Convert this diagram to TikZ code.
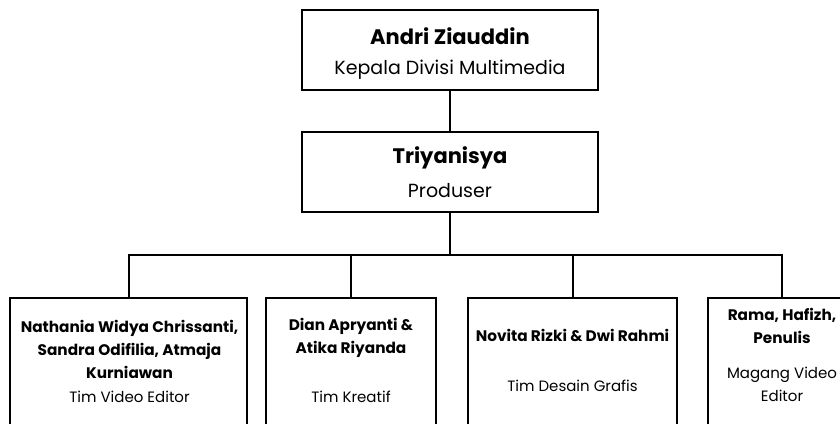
\documentclass[tikz,border=0pt]{standalone}
\usepackage{fontspec}
\setmainfont{Poppins}
\begin{document}
\begin{tikzpicture}[x=1pt,y=-1pt,
  box/.style={draw,line width=2pt,rectangle,inner sep=0pt},
  bigb/.style={font=\fontsize{21}{24}\selectfont\bfseries,align=center},
  big/.style={font=\fontsize{19}{24}\selectfont,align=center},
  smallb/.style={font=\fontsize{15.3}{23}\selectfont\bfseries,align=center},
  small/.style={font=\fontsize{15}{23}\selectfont,align=center},
  conn/.style={line width=2pt}]
\useasboundingbox (0,0) rectangle (840,423);
\clip (0,0) rectangle (840,423);
% top boxes
\node[box,minimum width=296pt,minimum height=80pt] (head) at (450,50) {};
\node[box,minimum width=296pt,minimum height=80pt] (prod) at (450,172) {};
\node[bigb] (t1) at (450,36) {Andri Ziauddin};
\node[big] (t2) at (450,70) {Kepala Divisi Multimedia};
\node[bigb] (t3) at (450,158) {Triyanisya};
\node[big] (t4) at (450,191) {Produser};
% bottom boxes
\node[box,minimum width=237pt,minimum height=150pt,anchor=north] (b1) at (128.5,297) {};
\node[box,minimum width=170pt,minimum height=150pt,anchor=north] (b2) at (351,297) {};
\node[box,minimum width=209pt,minimum height=150pt,anchor=north] (b3) at (572.5,297) {};
\node[box,minimum width=148pt,minimum height=150pt,anchor=north] (b4) at (782,297) {};
\node[smallb] (s1) at (129.5,349) {Nathania Widya Chrissanti,\\Sandra Odifilia, Atmaja\\Kurniawan};
\node[small] (s1b) at (129.5,397) {Tim Video Editor};
\node[smallb] (s2) at (351,337.5) {Dian Apryanti \&\\Atika Riyanda};
\node[small] (s2b) at (351,397) {Tim Kreatif};
\node[smallb] (s3) at (572.5,335) {Novita Rizki \& Dwi Rahmi};
\node[small] (s3b) at (572.5,386) {Tim Desain Grafis};
\node[smallb] (s4) at (782,325.5) {Rama, Hafizh,\\Penulis};
\node[small] (s4b) at (782,384.5) {Magang Video\\Editor};
% connectors
\coordinate (bus) at (450,255);
\draw[conn] (head.south) -- (prod.north);
\draw[conn] (prod.south) -- (bus);
\draw[conn] (b1.north) |- (bus) -| (b4.north);
\draw[conn] (b2.north) -- (b2.north |- bus);
\draw[conn] (b3.north) -- (b3.north |- bus);
\end{tikzpicture}
\end{document}
